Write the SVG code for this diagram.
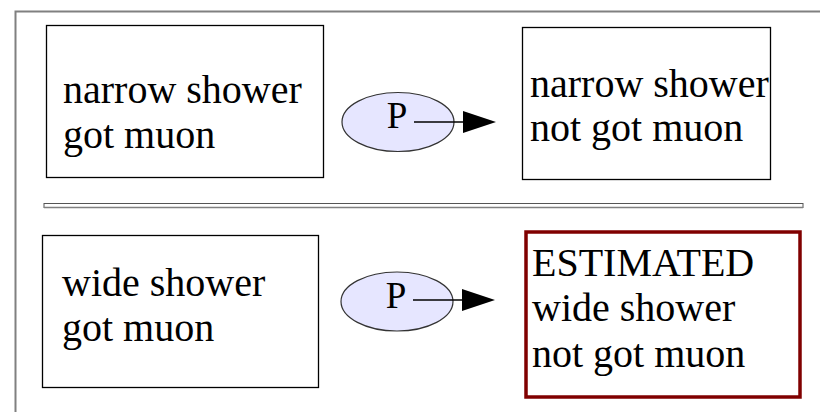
<svg xmlns="http://www.w3.org/2000/svg" width="820" height="412" viewBox="0 0 820 412">
<style>
.box{fill:#fff;stroke:#000;stroke-width:1.3}
.t{font-family:"Liberation Serif","Times New Roman",serif;font-size:40px;fill:#000}
.ell{fill:#e6e6ff;stroke:#333;stroke-width:1.2}
.p{font-family:"Liberation Serif","Times New Roman",serif;font-size:37px;fill:#000;text-anchor:middle}
.conn{stroke:#000;stroke-width:1.3;fill:none}
</style>
<defs>
<marker id="ah" viewBox="0 0 33 22" refX="0" refY="11" markerWidth="33" markerHeight="22" markerUnits="userSpaceOnUse" orient="auto">
<path d="M0,0 L33,11 L0,22 Z" fill="#000"/>
</marker>
</defs>
<g id="frame">
<path d="M15.5,412 V11.5 H820" fill="none" stroke="#808080" stroke-width="2"/>
</g>
<g id="separator">
<rect x="44" y="203.5" width="759" height="4" fill="#fff" stroke="#555" stroke-width="1"/>
<line x1="44" y1="207.5" x2="803" y2="207.5" stroke="#808080" stroke-width="1.5"/>
</g>
<g id="n1">
<rect class="box" x="46.5" y="25.5" width="277" height="152"/>
<text class="t" x="63" y="103">narrow shower</text>
<text class="t" x="63" y="148">got muon</text>
</g>
<g id="n2">
<rect class="box" x="522.5" y="27.5" width="248" height="152"/>
<text class="t" x="530" y="97">narrow shower</text>
<text class="t" x="530" y="141">not got muon</text>
</g>
<g id="n3">
<rect class="box" x="42.5" y="235.5" width="276" height="152"/>
<text class="t" x="62" y="296">wide shower</text>
<text class="t" x="62" y="341">got muon</text>
</g>
<g id="n4">
<rect x="526" y="232" width="274" height="165" fill="#fff" stroke="#800000" stroke-width="3.5"/>
<text class="t" x="532" y="276">ESTIMATED</text>
<text class="t" x="532" y="321">wide shower</text>
<text class="t" x="532" y="367">not got muon</text>
</g>
<g id="p1">
<ellipse class="ell" cx="398" cy="122" rx="56" ry="29.5"/>
<text class="p" x="397" y="128">P</text>
</g>
<g id="p2">
<ellipse class="ell" cx="397" cy="301.5" rx="56" ry="29.5"/>
<text class="p" x="396" y="308">P</text>
</g>
<g id="connectors">
<line class="conn" x1="414" y1="122" x2="463" y2="122" marker-end="url(#ah)"/>
<line class="conn" x1="413" y1="300" x2="462" y2="300" marker-end="url(#ah)"/>
</g>
</svg>
